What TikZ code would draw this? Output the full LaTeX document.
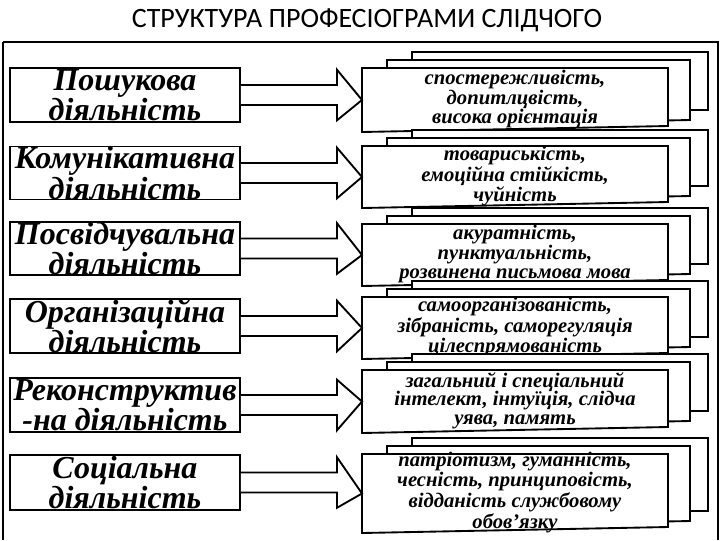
\documentclass[tikz,border=0pt]{standalone}
\usepackage{fontspec}
\setmainfont{Liberation Serif}
\newfontfamily\titlefont{Carlito}
\usetikzlibrary{calc}
\begin{document}
\begin{tikzpicture}[x=0.75pt,y=-0.75pt,
  lbox/.style={draw,line width=1.4pt,minimum width=172.5pt,inner sep=0pt,align=center,font=\fontsize{24}{18}\selectfont\bfseries\itshape},
  rbox/.style={draw,line width=1.4pt,fill=white},
  rtext/.style={align=center,font=\fontsize{15.5}{14}\selectfont\bfseries\itshape,inner sep=0pt},
  barrow/.style={draw,line width=1.4pt,fill=white}]
\useasboundingbox (0,0) rectangle (720,540);
\draw[line width=1.4pt] (3,42) -- (718,42) -- (718,540);
\draw[line width=1.4pt] (3,42) -- (3,540);
\node[font=\titlefont\fontsize{21}{22}\selectfont] (title) at (367,20) {СТРУКТУРА ПРОФЕСІОГРАМИ  СЛІДЧОГО};
\foreach \i/\lt/\lb/\rt/\rb/\ltext/\rtxt in {
 1/68/122/68/132/{Пошукова\\діяльність}/{спостережливість,\\допитлцвість,\\висока орієнтація},
 2/150/196/146/208/{Комунікативна\\діяльність}/{товариськість,\\емоційна стійкість,\\чуйність},
 3/225/272/224/286/{Посвідчувальна\\діяльність}/{акуратність,\\пунктуальність,\\розвинена письмова мова},
 4/300/352/297/359/{Організаційна\\діяльність}/{самоорганізованість,\\зібраність, саморегуляція\\цілеспрямованість},
 5/378/432/370/433/{Реконструктив\\-на діяльність}/{загальний і спеціальний\\інтелект, інтуїція, слідча\\уява, память},
 6/455/510/454/533/{Соціальна\\діяльність}/{патріотизм, гуманність,\\чесність, принциповість,\\відданість службовому\\обов'язку}} {
  \node[lbox,minimum height={(\lb-\lt)*0.75pt}] (L\i) at (125,{(\lt+\lb)/2}) {\ltext};
  \draw[rbox] (412,\rt-16) rectangle (708,\rb-22);
  \draw[rbox] (387,\rt-8) -- (690,\rt-8) -- (690,\rb-12) -- (387,\rb-6) -- cycle;
  \draw[rbox] (362,\rt) -- (668,\rt) -- (668,\rb-6) -- (362,\rb) -- cycle;
  \coordinate (R\i) at (362,{(\rt+\rb)/2});
  \node[rtext] (T\i) at (515,{(\rt+\rb)/2-1}) {\rtxt};
  \draw[barrow] let \p1=(L\i.east), \p2=(R\i) in
    (\x1,\y1+7.5pt) -- (\x1+72pt,\y1+7.5pt) -- (\x1+72pt,\y1+19pt) -- (\x2,\y2)
    -- (\x1+72pt,\y1-19pt) -- (\x1+72pt,\y1-7.5pt) -- (\x1,\y1-7.5pt);
}
\end{tikzpicture}
\end{document}
